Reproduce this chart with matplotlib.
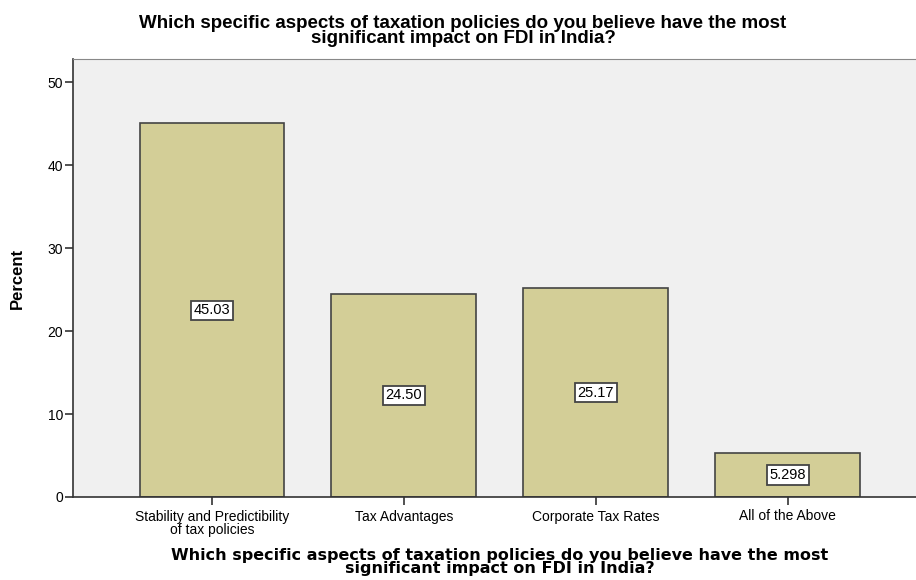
import matplotlib.pyplot as plt

categories = ["Stability and Predictibility\nof tax policies", "Tax Advantages",
              "Corporate Tax Rates", "All of the Above"]
percent = [45.03, 24.50, 25.17, 5.298]
value_labels = ["45.03", "24.50", "25.17", "5.298"]
title = "Which specific aspects of taxation policies do you believe have the most\nsignificant impact on FDI in India?"

W, H = 916, 580
fig = plt.figure(figsize=(W / 100, H / 100), dpi=100)
# plot area in pixels: left 73, top 59, bottom 497, runs off the right edge
ax = fig.add_axes([73 / W, (H - 497) / H, (W + 10 - 73) / W, (497 - 59) / H])
ax.set_facecolor("#F0F0F0")

x = range(len(categories))
ax.bar(x, percent, width=0.755, color="#D3CE97", edgecolor="#444444", linewidth=1.2, zorder=2)

for i in x:
    ax.text(i, percent[i] / 2, value_labels[i], ha="center", va="center", fontsize=10.5,
            family="Liberation Sans",
            bbox=dict(boxstyle="square,pad=0.18", facecolor="white", edgecolor="#444444", linewidth=1.3),
            zorder=3)

ax.set_ylim(0, 52.8)
ax.set_xlim(-0.724, 3.72)
ax.set_yticks([0, 10, 20, 30, 40, 50])
ax.set_xticks(list(x))
ax.set_xticklabels(categories, family="Liberation Sans", fontsize=10, linespacing=0.95)
ax.tick_params(axis="y", labelsize=10, length=6, width=1.2, color="#333333", pad=1)
ax.tick_params(axis="x", length=6, width=1.2, color="#333333", pad=3)
for lbl in ax.get_yticklabels():
    lbl.set_family("Liberation Sans")

for s in ["left", "bottom"]:
    ax.spines[s].set_color("#333333")
    ax.spines[s].set_linewidth(1.2)
ax.spines["top"].set_color("#888888")
ax.spines["right"].set_visible(False)

fig.text(17 / W, 1 - 278 / H, "Percent", rotation=90, ha="center", va="center",
         family="Liberation Sans", fontweight="bold", fontsize=12)

fig.text(463 / W, 1 - 31 / H, title, ha="center", va="center", family="Liberation Sans",
         fontweight="bold", fontsize=13.5, linespacing=0.9)
fig.text(500 / W, 1 - 562 / H, title, ha="center", va="center", family="DejaVu Sans",
         fontweight="bold", fontsize=11.5, linespacing=0.9)

fig.savefig("out.png", dpi=100)
